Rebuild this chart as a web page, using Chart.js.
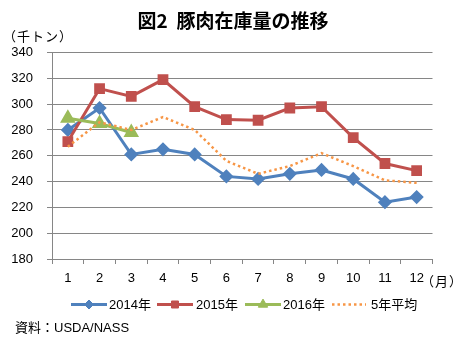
<!DOCTYPE html>
<html lang="ja">
<head>
<meta charset="utf-8">
<script src="https://cdn.jsdelivr.net/npm/chart.js@4"></script>
<style>
  html, body { margin: 0; padding: 0; background: #fff; }
  #wrap { position: relative; width: 476px; height: 351px; overflow: hidden; }
  #chart { position: absolute; left: 0; top: 0; }
  .txt { position: absolute; white-space: nowrap; line-height: 1; color: #000;
         font-family: 'Liberation Sans', 'Noto Sans CJK JP', sans-serif; }
  #title { left: 0; width: 466px; text-align: center; top: 10px; font-size: 19px; font-weight: bold;
           font-family: 'Noto Sans CJK JP', sans-serif; }
  #unit { left: 3px; top: 29px; font-size: 13px; letter-spacing: 1px; font-family: 'Noto Sans CJK JP', sans-serif; }
  #month { left: 421px; top: 274px; font-size: 13px; letter-spacing: 1px; font-family: 'Noto Sans CJK JP', sans-serif; }
  #source { left: 15px; top: 321px; font-size: 13px; }
</style>
</head>
<body>
<div id="wrap">
  <canvas id="chart" width="476" height="351"></canvas>
  <div class="txt" id="title">図2&nbsp;&nbsp;豚肉在庫量の推移</div>
  <div class="txt" id="unit">（千トン）</div>
  <div class="txt" id="month">（月）</div>
  <div class="txt" id="source">資料：USDA/NASS</div>
</div>
<script>
// ---- データ ----
const months = ['1', '2', '3', '4', '5', '6', '7', '8', '9', '10', '11', '12'];
const stock2014 = [280, 297, 261, 265, 261, 244, 242, 246, 249, 242, 224, 228];
const stock2015 = [271, 312, 306, 319, 298, 288, 287.5, 297, 298, 274, 254, 248.5];
const stock2016 = [289, 285, 278];
const avg5y = [267, 286, 280, 290, 280, 256, 246, 252, 262, 252, 241, 239];
const seriesNames = ['2014年', '2015年', '2016年', '5年平均'];

const GRID = '#868686';
const FONT = "'Liberation Sans', 'Noto Sans CJK JP', sans-serif";

// 凡例（線＋マーカー）を自前で描く
const legendPlugin = {
  id: 'excelLegend',
  afterDraw(chart) {
    const ctx = chart.ctx;
    const y = 304.5;
    const items = [
      { ds: 0, x0: 71, x1: 107, tx: 109 },
      { ds: 1, x0: 157, x1: 193, tx: 196 },
      { ds: 2, x0: 245, x1: 281, tx: 283 },
      { ds: 3, x0: 332, x1: 366, tx: 371 }
    ];
    ctx.save();
    items.forEach(it => {
      const d = chart.data.datasets[it.ds];
      ctx.beginPath();
      ctx.strokeStyle = d.borderColor;
      ctx.lineWidth = d.borderWidth;
      ctx.setLineDash(d.borderDash || []);
      ctx.moveTo(it.x0, y);
      ctx.lineTo(it.x1, y);
      ctx.stroke();
      ctx.setLineDash([]);
      if (d.pointRadius > 0) {
        ctx.fillStyle = d.pointBackgroundColor;
        ctx.strokeStyle = d.pointBorderColor;
        ctx.lineWidth = 1;
        Chart.helpers.drawPoint(ctx, {
          pointStyle: d.pointStyle, radius: d.pointRadius * 0.9, rotation: 0, borderWidth: 1
        }, (it.x0 + it.x1) / 2, y);
      }
      ctx.fillStyle = '#000';
      ctx.font = '13px ' + FONT;
      ctx.textBaseline = 'middle';
      ctx.textAlign = 'left';
      ctx.fillText(d.label, it.tx, y + 0.5);
    });
    ctx.restore();
  }
};

new Chart(document.getElementById('chart'), {
  type: 'line',
  data: {
    labels: months,
    datasets: [
      {
        label: seriesNames[0], data: stock2014, order: 3,
        borderColor: '#4F81BD', borderWidth: 3,
        pointStyle: 'rectRot', pointRadius: 5,
        pointBackgroundColor: '#4F81BD', pointBorderColor: '#4F81BD'
      },
      {
        label: seriesNames[1], data: stock2015, order: 2,
        borderColor: '#C0504D', borderWidth: 3,
        pointStyle: 'rect', pointRadius: 5.5,
        pointBackgroundColor: '#C0504D', pointBorderColor: '#C0504D'
      },
      {
        label: seriesNames[2], data: stock2016, order: 1,
        borderColor: '#9BBB59', borderWidth: 3,
        pointStyle: 'triangle', pointRadius: 6,
        pointBackgroundColor: '#9BBB59', pointBorderColor: '#9BBB59'
      },
      {
        label: seriesNames[3], data: avg5y, order: 0,
        borderColor: '#F79646', borderWidth: 2.5,
        borderDash: [2.5, 3], pointRadius: 0
      }
    ]
  },
  options: {
    responsive: false,
    animation: false,
    events: [],
    layout: { padding: { left: 0, top: 52.5, right: 43.5, bottom: 62 } },
    plugins: { legend: { display: false }, tooltip: { enabled: false } },
    elements: { line: { tension: 0 } },
    scales: {
      x: {
        offset: true,
        afterFit(scale) { scale.height = 30; },
        grid: { offset: true, drawOnChartArea: false, color: GRID, tickLength: 5, lineWidth: 1 },
        border: { color: GRID, width: 1 },
        ticks: { color: '#000', font: { size: 13, family: FONT }, padding: 7, maxRotation: 0, autoSkip: false }
      },
      y: {
        min: 180, max: 340,
        afterFit(scale) { scale.width = 52; },
        grid: { color: GRID, tickLength: 5, lineWidth: 1 },
        border: { color: GRID, width: 1 },
        ticks: { stepSize: 20, color: '#000', font: { size: 13, family: FONT }, padding: 14 }
      }
    }
  },
  plugins: [legendPlugin]
});
</script>
</body>
</html>
